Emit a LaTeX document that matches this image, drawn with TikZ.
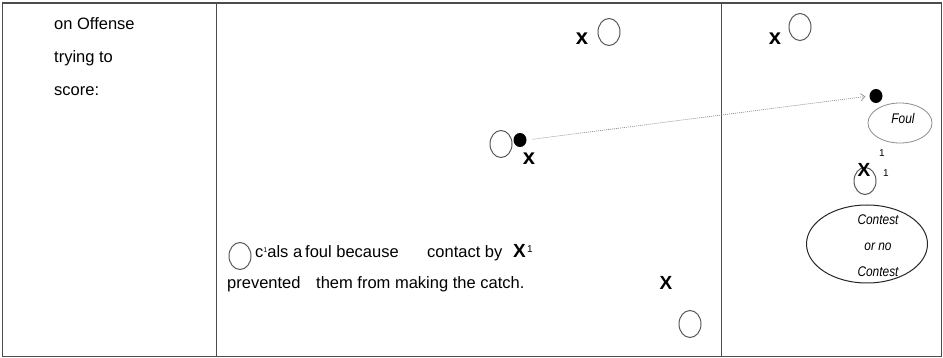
\documentclass[tikz,border=0pt]{standalone}
\usepackage{fontspec}
\setmainfont{Liberation Sans}
\usetikzlibrary{shapes.geometric,arrows.meta}
\begin{document}
\begin{tikzpicture}[x=1pt,y=-1pt,
  frame/.style={draw=black!70,line width=1.5pt},
  player/.style={ellipse,draw=black!65,line width=1pt,minimum width=22pt,minimum height=27pt,inner sep=0pt},
  ball/.style={ellipse,fill=black,minimum width=13pt,minimum height=14pt,inner sep=0pt},
  txt/.style={anchor=base west,inner sep=0pt,font=\fontsize{16.5}{19}\selectfont},
  defx/.style={inner sep=0pt,font=\fontsize{22}{22}\selectfont\bfseries},
  bigx/.style={inner sep=0pt,font=\fontsize{19}{19}\selectfont\bfseries},
  supnum/.style={inner sep=0pt,font=\fontsize{10}{10}\selectfont},
  call/.style={ellipse,inner sep=0pt},
  calltxt/.style={inner sep=0pt,font=\fontsize{14}{26}\selectfont\itshape,align=center},
  pass/.style={draw=black!45,line width=0.7pt,dash pattern=on 1pt off 1pt,
    -{Straight Barb[length=4pt,width=7pt]},shorten <=6pt,shorten >=4pt}
  ]
\useasboundingbox (0,0) rectangle (943,358);
% table frame
\draw[frame] (2.5,3) rectangle (941.5,356.5);
\draw[frame] (216.5,3) -- (216.5,356.5);
\draw[frame] (721.5,3) -- (721.5,356.5);
% left column text
\node[txt] (t1) at (54,30) {on Offense};
\node[txt] (t2) at (54,63) {trying to};
\node[txt] (t3) at (54,96) {score:};
% middle column
\node[player] (p1) at (609,32) {};
\node[defx] (x1) at (582,39) {x};
\node[player] (p2) at (501,144) {};
\node[ball] (b1) at (520,140) {};
\node[defx] (x2) at (529,159) {x};
% right column
\node[player] (p3) at (800,27) {};
\node[defx] (x3) at (775,39) {x};
\node[ball] (b2) at (876,96) {};
\draw[pass] (b1.east) -- (b2.west);
\node[call,draw=black!45,line width=0.8pt,minimum width=64pt,minimum height=40pt] (foul) at (900,123) {};
\node[calltxt] (foultxt) at (903,118) {\scalebox{0.85}[1]{Foul}};
\node[supnum] (s1) at (882,153) {1};
\node[player] (p4) at (865,181) {};
\node[bigx] (x4) at (864,170) {X};
\node[supnum] (s2) at (886,173) {1};
\node[call,draw=black!85,line width=1pt,minimum width=121pt,minimum height=78pt] (contest) at (867,244) {};
\node[calltxt] (contesttxt) at (878,246) {\scalebox{0.85}[1]{Contest}\\\scalebox{0.85}[1]{or no}\\\scalebox{0.85}[1]{Contest}};
% bottom explanation
\node[player] (p5) at (240,256) {};
\node[txt] (c1) at (255,258) {c{\fontsize{7}{7}\selectfont\raisebox{5pt}{1}}als a\hspace{3pt}foul because};
\node[txt] (c2) at (427,258) {contact by};
\node[bigx,anchor=base west] (x5) at (513,258) {X};
\node[supnum] (s3) at (530,249) {1};
\node[txt] (c3) at (227,288) {prevented};
\node[txt] (c4) at (316,288) {them from making the catch.};
\node[bigx] (x6) at (666,283) {X};
\node[player] (p6) at (690,324) {};
\end{tikzpicture}
\end{document}
